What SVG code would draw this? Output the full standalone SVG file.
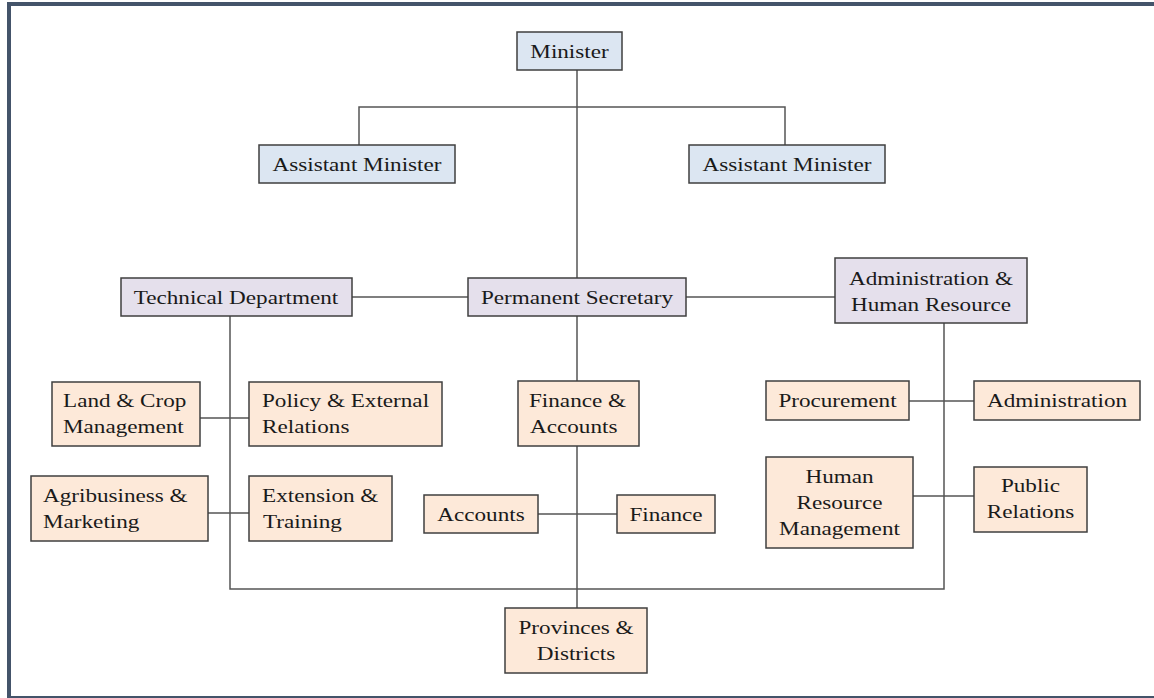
<svg xmlns="http://www.w3.org/2000/svg" width="1154" height="698" viewBox="0 0 1154 698">
  <style>
    .box { stroke: #3f3f3f; stroke-width: 1.5; }
    .blue { fill: #dce6f2; }
    .lav { fill: #e5e0ec; }
    .peach { fill: #fde9d9; }
    .lbl { font-family: "Liberation Serif", "Times New Roman", serif; font-size: 19.3px; fill: #1a1a1a; }
    .c { text-anchor: middle; }
    .conn line, .conn polyline { stroke: #555555; stroke-width: 1.5; fill: none; }
  </style>

  <!-- frame -->
  <rect x="9" y="4" width="1160" height="694" fill="#ffffff" stroke="#44546a" stroke-width="4"/>

  <!-- connectors -->
  <g class="conn">
    <line x1="577" y1="70" x2="577" y2="278"/>
    <polyline points="359,145 359,107 785,107 785,145"/>
    <line x1="352" y1="297" x2="468" y2="297"/>
    <line x1="686" y1="297" x2="835" y2="297"/>
    <line x1="577" y1="316" x2="577" y2="381"/>
    <line x1="577" y1="446" x2="577" y2="608"/>
    <line x1="538" y1="514" x2="617" y2="514"/>
    <polyline points="230,316 230,589 944,589 944,323"/>
    <line x1="200" y1="418" x2="249" y2="418"/>
    <line x1="208" y1="513" x2="249" y2="513"/>
    <line x1="909" y1="401" x2="974" y2="401"/>
    <line x1="913" y1="496" x2="974" y2="496"/>
  </g>

  <!-- labels use a wide serif face: glyphs stretched 1.2x horizontally -->
  <g id="minister">
    <rect class="box blue" x="517" y="32" width="105" height="38"/>
    <text class="lbl c" transform="translate(569.5 58) scale(1.2 1)">Minister</text>
  </g>
  <g id="assistant-minister-1">
    <rect class="box blue" x="259" y="145" width="196" height="38"/>
    <text class="lbl c" transform="translate(357 171) scale(1.2 1)">Assistant Minister</text>
  </g>
  <g id="assistant-minister-2">
    <rect class="box blue" x="689" y="145" width="196" height="38"/>
    <text class="lbl c" transform="translate(787 171) scale(1.2 1)">Assistant Minister</text>
  </g>
  <g id="technical-department">
    <rect class="box lav" x="121" y="278" width="231" height="38"/>
    <text class="lbl c" transform="translate(236 304) scale(1.2 1)">Technical Department</text>
  </g>
  <g id="permanent-secretary">
    <rect class="box lav" x="468" y="278" width="218" height="38"/>
    <text class="lbl c" transform="translate(577 304) scale(1.2 1)">Permanent Secretary</text>
  </g>
  <g id="admin-hr">
    <rect class="box lav" x="835" y="258" width="192" height="65"/>
    <text class="lbl c" transform="translate(931 285) scale(1.2 1)">Administration &amp;</text>
    <text class="lbl c" transform="translate(931 311) scale(1.2 1)">Human Resource</text>
  </g>
  <g id="land-crop">
    <rect class="box peach" x="52" y="382" width="148" height="64"/>
    <text class="lbl" transform="translate(63 407) scale(1.2 1)">Land &amp; Crop</text>
    <text class="lbl" transform="translate(63 433) scale(1.2 1)">Management</text>
  </g>
  <g id="policy-external">
    <rect class="box peach" x="249" y="382" width="193" height="64"/>
    <text class="lbl" transform="translate(262 407) scale(1.2 1)">Policy &amp; External</text>
    <text class="lbl" transform="translate(262 433) scale(1.2 1)">Relations</text>
  </g>
  <g id="agribusiness">
    <rect class="box peach" x="31" y="476" width="177" height="65"/>
    <text class="lbl" transform="translate(43 502) scale(1.2 1)">Agribusiness &amp;</text>
    <text class="lbl" transform="translate(43 528) scale(1.2 1)">Marketing</text>
  </g>
  <g id="extension-training">
    <rect class="box peach" x="249" y="476" width="143" height="65"/>
    <text class="lbl" transform="translate(262 502) scale(1.2 1)">Extension &amp;</text>
    <text class="lbl" transform="translate(263 528) scale(1.2 1)">Training</text>
  </g>
  <g id="finance-accounts">
    <rect class="box peach" x="518" y="381" width="121" height="65"/>
    <text class="lbl" transform="translate(529 407) scale(1.2 1)">Finance &amp;</text>
    <text class="lbl" transform="translate(530 433) scale(1.2 1)">Accounts</text>
  </g>
  <g id="accounts">
    <rect class="box peach" x="424" y="495" width="114" height="38"/>
    <text class="lbl c" transform="translate(481 521) scale(1.2 1)">Accounts</text>
  </g>
  <g id="finance">
    <rect class="box peach" x="617" y="495" width="98" height="38"/>
    <text class="lbl c" transform="translate(666 521) scale(1.2 1)">Finance</text>
  </g>
  <g id="provinces-districts">
    <rect class="box peach" x="505" y="608" width="142" height="65"/>
    <text class="lbl c" transform="translate(576 634) scale(1.2 1)">Provinces &amp;</text>
    <text class="lbl c" transform="translate(576 660) scale(1.2 1)">Districts</text>
  </g>
  <g id="procurement">
    <rect class="box peach" x="766" y="381" width="143" height="39"/>
    <text class="lbl c" transform="translate(837.5 407) scale(1.2 1)">Procurement</text>
  </g>
  <g id="administration">
    <rect class="box peach" x="974" y="381" width="166" height="39"/>
    <text class="lbl c" transform="translate(1057 407) scale(1.2 1)">Administration</text>
  </g>
  <g id="hr-management">
    <rect class="box peach" x="766" y="457" width="147" height="91"/>
    <text class="lbl c" transform="translate(839.5 483) scale(1.2 1)">Human</text>
    <text class="lbl c" transform="translate(839.5 509) scale(1.2 1)">Resource</text>
    <text class="lbl c" transform="translate(839.5 535) scale(1.2 1)">Management</text>
  </g>
  <g id="public-relations">
    <rect class="box peach" x="974" y="467" width="113" height="65"/>
    <text class="lbl c" transform="translate(1030.5 492) scale(1.2 1)">Public</text>
    <text class="lbl c" transform="translate(1030.5 518) scale(1.2 1)">Relations</text>
  </g>
</svg>
